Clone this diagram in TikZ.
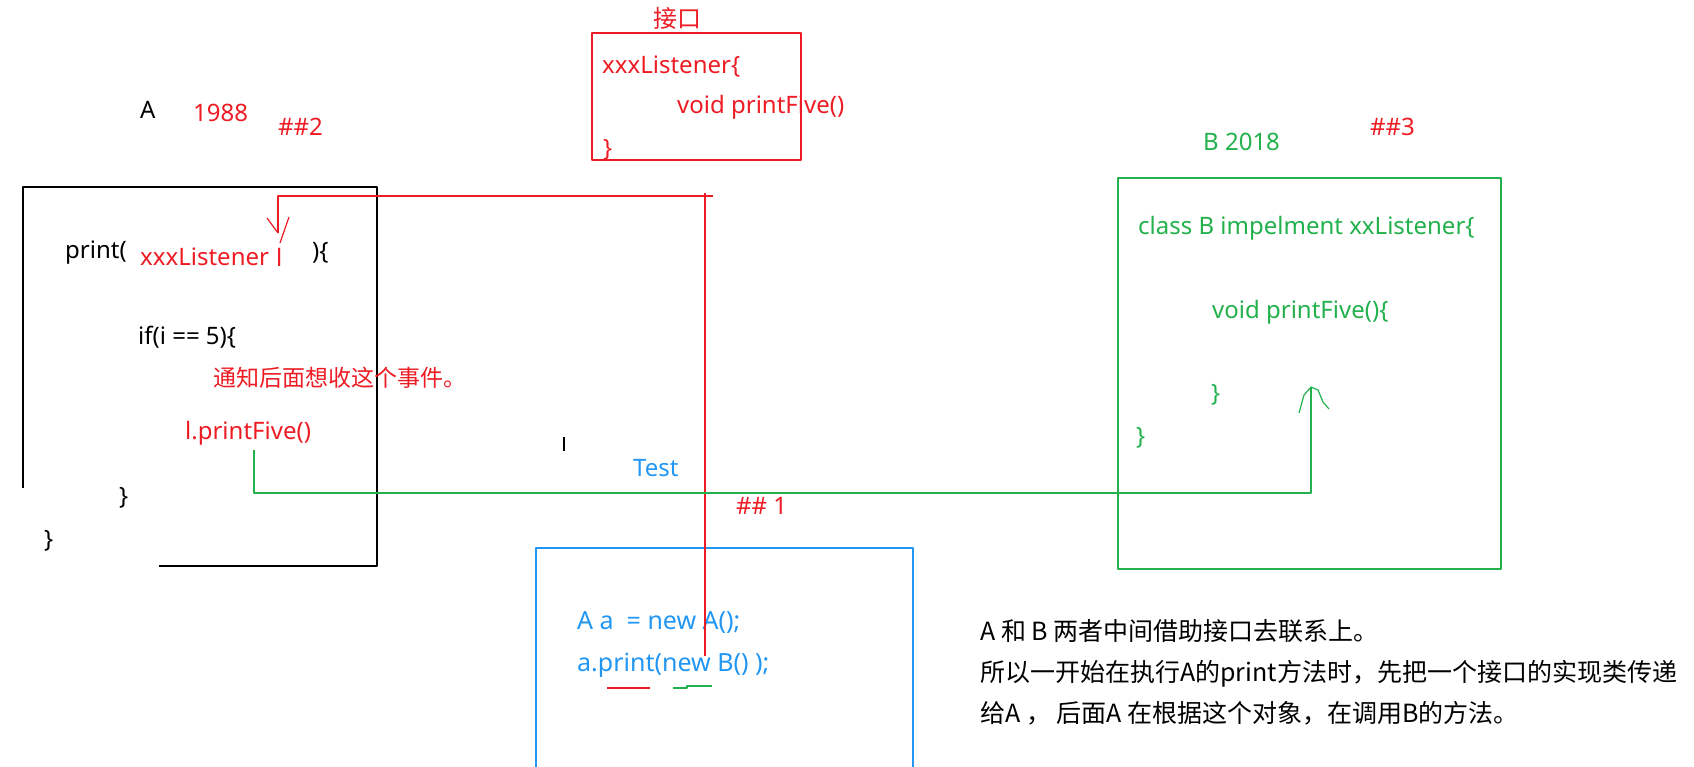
\documentclass[tikz,border=0pt]{standalone}
\usepackage{fontspec}
\setmainfont{Noto Sans}
\newfontfamily\cjk{Noto Sans CJK SC}
\usepackage{tikz}
\definecolor{penred}{HTML}{ED1C24}
\definecolor{pengreen}{HTML}{22B14C}
\definecolor{penblue}{HTML}{2196F3}
\tikzset{txt/.style={anchor=west, inner sep=0pt, font=\fontsize{24}{29}\selectfont},
         zh/.style={anchor=west, inner sep=0pt, font=\cjk\fontsize{23}{28}\selectfont},
         redln/.style={draw=penred, line width=1.6pt},
         grnln/.style={draw=pengreen, line width=1.6pt}
}

\begin{document}
\begin{tikzpicture}[x=1pt, y=-1pt, line join=round]
  \useasboundingbox (0,0) rectangle (1694,766);

  % A
  \draw[line width=1.6pt] (23,488) |- (377,187) |- (159,566);
  \node[txt] (aname) at (140,110) {A};
  \node[txt, text=penred] (ayear) at (193,113) {1988};
  \node[txt, text=penred] (mark2) at (278,127) {\#\#2};
  \node[txt] (pr) at (65,253) {print(};
  \node[txt, text=penred] (lis) at (140,257) {xxxListener};
  \node[txt, text=penred] (lvar) at (276,257) {l};
  \node[txt] (pclose) at (312,253) {)\{};
  \node[txt] (ifc) at (138,337) {if(i == 5)\{};
  \node[zh, text=penred] (note) at (213,378) {通知后面想收这个事件。};
  \node[txt, text=penred] (pf) at (185,433) {l.printFive()};
  \node[txt] (acb1) at (119,498) {\}};
  \node[txt] (acb2) at (44,541) {\}};

  % interface
  \node[zh, font=\cjk\fontsize{24}{29}\selectfont, text=penred] (ititle) at (653,18) {接口};
  \draw[redln] (592,33) rectangle (801,160);
  \node[txt, text=penred] (ihead) at (602,67) {xxxListener\{};
  \node[txt, text=penred] (ivoid) at (677,107) {void printFive()};
  \node[txt, text=penred] (icb) at (603,150) {\}};

  % Test
  \node[txt, text=penblue] (ttitle) at (633,468) {Test};
  \node[txt, text=penred] (mark1) at (736,506) {\#\# 1};
  \draw[line width=2.5pt] (564,437) -- (564,451);
  \draw[penblue, line width=1.6pt] (536,770) |- (913,548) -- (913,770);
  \node[txt, font=\fontsize{25}{30}\selectfont, text=penblue] (tnew) at (577,623) {A a \ = new A();};
  \node[txt, font=\fontsize{25}{30}\selectfont, text=penblue] (tcall) at (577,665) {a.print(new B() );};
  \draw[redln] (607,688) -- (650,688);
  \draw[grnln, line width=1.2pt] (673,688) -- (687,688) -- (687,686) -- (712,686);

  % B
  \node[txt, text=pengreen] (btitle) at (1203,142) {B 2018};
  \node[txt, text=penred] (mark3) at (1370,127) {\#\#3};
  \draw[grnln] (1118,178) rectangle (1501,569);
  \node[txt, text=pengreen] (bcls) at (1138,228) {class B impelment xxListener\{};
  \node[txt, text=pengreen] (bvoid) at (1212,312) {void printFive()\{};
  \node[txt, text=pengreen] (bcb1) at (1211,395) {\}};
  \node[txt, text=pengreen] (bcb2) at (1136,438) {\}};

  % connectors
  \coordinate (rA) at (705,656);
  \coordinate (rB) at (278,196);
  \coordinate (rtip) at (278,233);
  \draw[redln] (rA) |- (rB) -- (rtip);
  \draw[redln] (rA |- rB) -- ++(8,0) (rA |- rB) -- ++(0,-3);
  \draw[redln, line width=1.2pt] (rtip) ++(-11,-15) -- (rtip) ++(11,-16) -- ++(-9,26);
  \coordinate (gA) at (254,450);
  \coordinate (gmid) at (254,493);
  \coordinate (gB) at (1311,387);
  \draw[grnln] (gA) -- (gmid) -| (gB);
  \draw[grnln, line width=1.2pt] (gB) ++(-12,26) -- ++(5,-18) -- (gB) -- ++(7,3) -- ++(5,12) -- ++(6,7);

  \node[zh, font=\cjk\fontsize{25}{41}\selectfont, align=left] (summary) at (980,672)
    {A 和 B 两者中间借助接口去联系上。\\
     所以一开始在执行A的print方法时，先把一个接口的实现类传递\\
     给A ， 后面A 在根据这个对象，在调用B的方法。};
\end{tikzpicture}
\end{document}
